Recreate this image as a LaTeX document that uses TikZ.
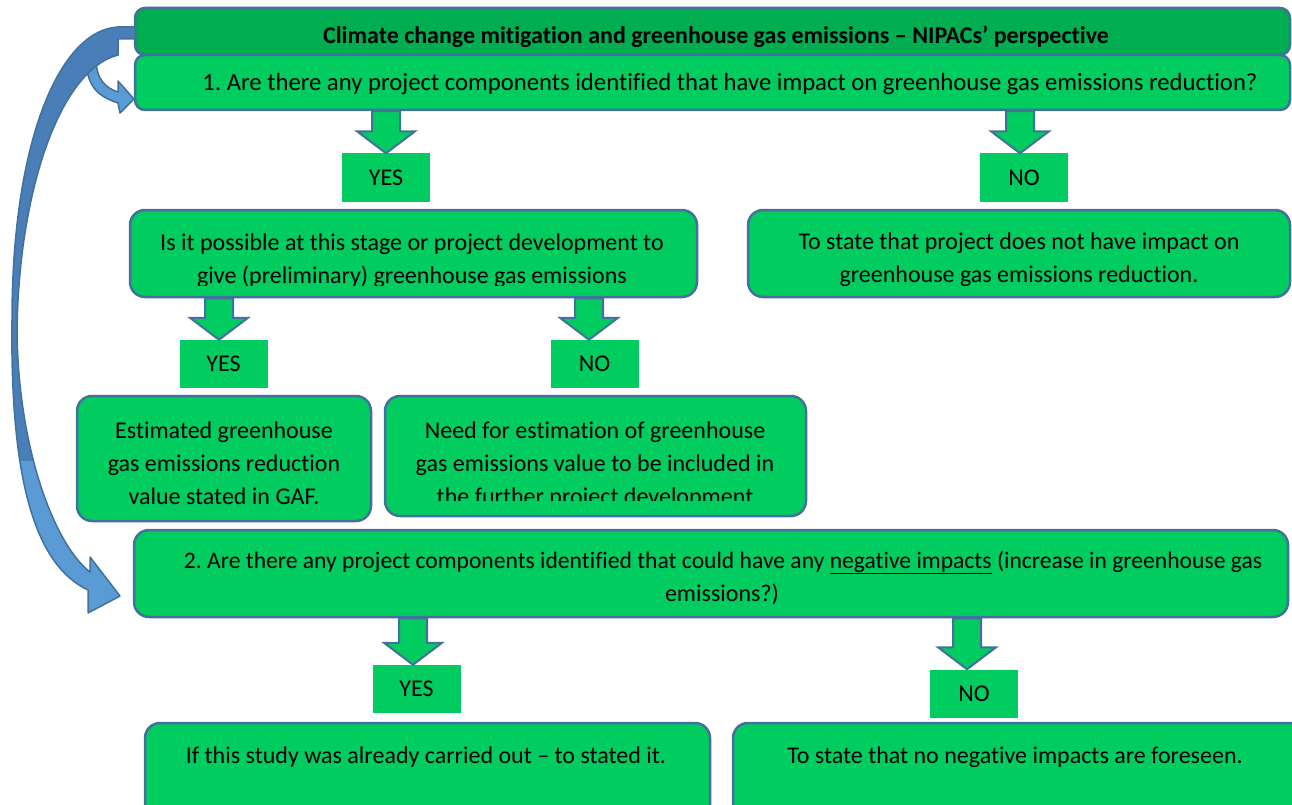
\documentclass[tikz,border=0pt]{standalone}
\usepackage{fontspec}
\setmainfont{Carlito}[Ligatures=NoCommon]
\frenchspacing
\usetikzlibrary{calc}
\definecolor{boxgreen}{RGB}{0,204,96}
\definecolor{titlegreen}{RGB}{0,173,80}
\definecolor{edgeblue}{RGB}{65,113,156}
\definecolor{arrowlight}{RGB}{91,155,213}
\definecolor{arrowdark}{RGB}{74,126,185}
\tikzset{
  rbox/.style={draw=edgeblue, line width=2.5pt, fill=boxgreen, rounded corners=15pt, inner sep=0pt},
  tbox/.style={rbox, rounded corners=10pt},
  ynbox/.style={fill=boxgreen, inner sep=0pt, minimum width=88pt, minimum height=48pt, font=\fontsize{24}{33}\selectfont},
  txt/.style={anchor=base, inner sep=0pt, font=\fontsize{24}{33}\selectfont},
  blockarr/.style={draw=edgeblue, line width=2pt, fill=boxgreen, line join=miter},
  curvearr/.style={draw=edgeblue, line width=1.5pt, line join=round}
}
\newcommand{\blockarrow}[3]{%
  \draw[blockarr] let \p1=(#1.south), \p2=([xshift=#3pt]#2.north) in
    (\x2-14pt,\y1) -- (\x2-14pt,\y2+22pt) -- (\x2-29pt,\y2+22pt) -- (\x2,\y2)
    -- (\x2+29pt,\y2+22pt) -- (\x2+14pt,\y2+22pt) -- (\x2+14pt,\y1) -- cycle;}
\newcommand{\bigarrowpath}{(118,27) .. controls (60,30) and (12,140) .. (12,320)
  .. controls (10,480) and (35,565) .. (88,590) -- (88,613) -- (120,596) -- (90,557) -- (90,572)
  .. controls (55,545) and (18,450) .. (17,330) .. controls (19,190) and (60,70) .. (118,55)
  -- (118,39) -- (135,39) -- (135,27) -- cycle}
\begin{document}
\begin{tikzpicture}[x=1pt,y=-1pt]
\clip (0,0) rectangle (1292,805);
% boxes
\node[tbox, fill=titlegreen, minimum width=1155pt, minimum height=47pt] (title) at (712.5,31.5) {};
\node[tbox, minimum width=1155pt, minimum height=55pt] (q1) at (712.5,82.5) {};
\node[ynbox] (yes1) at (386,177.5) {YES};
\node[ynbox] (no1) at (1024,177.5) {NO};
\node[rbox, minimum width=567pt, minimum height=87pt] (q2) at (413.5,253.5) {};
\node[rbox, minimum width=542pt, minimum height=87pt] (n1) at (1019,253.5) {};
\node[ynbox] (yes2) at (223.5,364) {YES};
\node[ynbox] (no2) at (594.5,364) {NO};
\node[rbox, minimum width=294pt, minimum height=125pt] (e1) at (224,458.5) {};
\node[rbox, minimum width=421pt, minimum height=120pt] (e2) at (595.5,456) {};
\node[rbox, minimum width=1154pt, minimum height=87pt] (q3) at (711,573.5) {};
\node[ynbox] (yes3) at (416.5,689) {YES};
\node[ynbox] (no3) at (974,693.5) {NO};
\node[rbox, minimum width=565pt, minimum height=107pt] (f1) at (427.5,776.5) {};
\node[rbox, minimum width=577pt, minimum height=107pt] (f2) at (1021.5,776.5) {};
% texts
\node[txt, font=\fontsize{24}{33}\selectfont\bfseries] (titletext) at (716,44) {Climate change mitigation and greenhouse gas emissions – NIPACs’ perspective};
\node[txt, font=\fontsize{24.7}{33}\selectfont] (q1text) at (730,91) {1. Are there any project components identified that have impact on greenhouse gas emissions reduction?};
\node[txt] (q2a) at (412,250) {Is it possible at this stage or project development to};
\begin{scope}
  \clip (100,200) rectangle (1292,285);
  \node[txt] (q2b) at (412,283) {give (preliminary) greenhouse gas emissions};
  \node[txt] (n1b) at (1019,282) {greenhouse gas emissions reduction.};
\end{scope}
\node[txt] (n1a) at (1019,249) {To state that project does not have impact on};
\node[txt] (e1a) at (224,438) {Estimated greenhouse};
\node[txt] (e1b) at (224,471) {gas emissions reduction};
\node[txt] (e1c) at (224,504) {value stated in GAF.};
\node[txt] (e2a) at (595,438) {Need for estimation of greenhouse};
\node[txt] (e2b) at (595,471) {gas emissions value to be included in};
\begin{scope}
  \clip (390,400) rectangle (800,500);
  \node[txt] (e2c) at (595,504) {the further project development};
\end{scope}
\node[txt, font=\fontsize{23.6}{33}\selectfont] (q3a) at (723,568) {2. Are there any project components identified that could have any \underline{negative impacts} (increase in greenhouse gas};
\node[txt] (q3b) at (722,601) {emissions?)};
\node[txt] (f1t) at (426,763) {If this study was already carried out – to stated it.};
\node[txt] (f2t) at (1015,763) {To state that no negative impacts are foreseen.};
% block arrows
\blockarrow{q1}{yes1}{0}
\blockarrow{q1}{no1}{-4}
\blockarrow{q2}{yes2}{-4.5}
\blockarrow{q2}{no2}{-5.5}
\blockarrow{q3}{yes3}{-3.5}
\blockarrow{q3}{no3}{-7}
% small curved arrow into q1
\draw[curvearr, fill=arrowlight] (86,58) .. controls (86,88) and (100,97) .. (118,103) -- (120,113) -- (134,99) -- (118,81) -- (118,92) .. controls (106,88) and (96,80) .. (96,58) -- cycle;
% big curved arrow from title to q3
\fill[arrowlight] \bigarrowpath;
\begin{scope}
  \clip (0,0) rectangle (140,460);
  \fill[arrowdark] \bigarrowpath;
\end{scope}
\draw[curvearr] \bigarrowpath;
\end{tikzpicture}
\end{document}
